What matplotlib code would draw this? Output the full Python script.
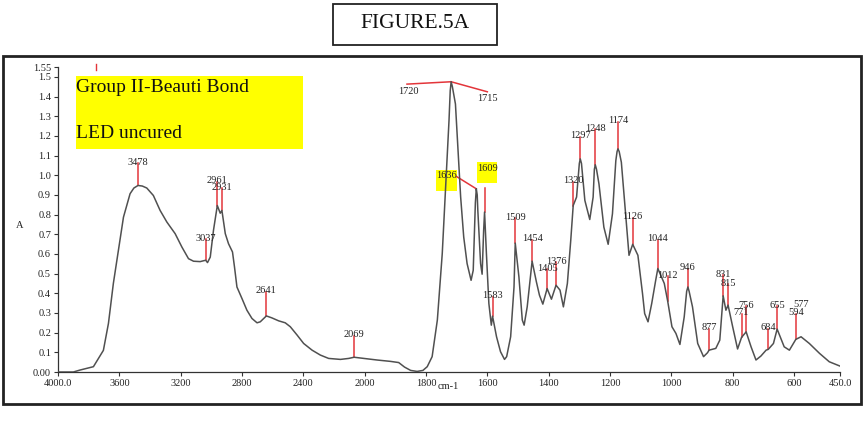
import numpy as np
import matplotlib
matplotlib.use("Agg")
import matplotlib.pyplot as plt
from matplotlib.patches import Rectangle

plt.rcParams['font.family'] = ['Liberation Serif', 'DejaVu Serif']

# ---------------- data ----------------
wavenumber = [4000, 3900, 3856, 3769, 3704, 3671, 3639, 3606, 3573, 3530, 3505, 3478, 3450, 3421,
              3378, 3334, 3290, 3236, 3192, 3149, 3116, 3073, 3037, 3025, 3007, 2986, 2961, 2942,
              2931, 2909, 2888, 2862, 2849, 2833, 2800, 2768, 2735, 2702, 2681, 2641, 2605,
              2561, 2518, 2485, 2441, 2398, 2343, 2289, 2235, 2158, 2104, 2069, 2006, 1960,
              1916, 1889, 1870, 1850, 1829, 1810, 1796, 1780, 1763, 1747, 1736, 1725, 1721, 1718,
              1714, 1704, 1695, 1687, 1677, 1666, 1653, 1646, 1639, 1636, 1633, 1631, 1622, 1617,
              1612, 1609, 1603, 1595, 1587, 1583, 1570, 1557, 1544, 1537, 1524, 1513, 1509, 1497,
              1486, 1480, 1470, 1454, 1440, 1430, 1419, 1405, 1391, 1376, 1363, 1352, 1339, 1328,
              1320, 1309, 1300, 1297, 1293, 1282, 1266, 1255, 1251, 1248, 1244, 1236, 1220, 1206,
              1192, 1181, 1177, 1174, 1170, 1163, 1151, 1138, 1126, 1109, 1094, 1087, 1076, 1064,
              1051, 1044, 1023, 1012, 998, 985, 972, 958, 950, 946, 942, 931, 914, 895, 882, 877,
              855, 842, 831, 822, 815, 800, 784, 771, 756, 740, 724, 708, 691, 684, 667, 655, 632,
              615, 594, 577, 550, 517, 485, 450]
absorbance = [0.0, 0.0, 0.01, 0.027, 0.11, 0.247, 0.45, 0.618, 0.787, 0.906, 0.935, 0.948, 0.945,
              0.935, 0.897, 0.821, 0.762, 0.703, 0.635, 0.576, 0.563, 0.561, 0.568, 0.556, 0.584,
              0.72, 0.846, 0.807, 0.821, 0.703, 0.652, 0.61, 0.534, 0.432, 0.373, 0.314, 0.272,
              0.25, 0.255, 0.285, 0.275, 0.26, 0.25, 0.23, 0.188, 0.145, 0.111, 0.086, 0.069,
              0.064, 0.069, 0.075, 0.069, 0.061, 0.054, 0.048, 0.025, 0.008, 0.003, 0.008, 0.027,
              0.078, 0.264, 0.602, 0.94, 1.277, 1.43, 1.475, 1.45, 1.362, 1.108, 0.889, 0.686,
              0.551, 0.466, 0.517, 0.86, 0.931, 0.9, 0.821, 0.551, 0.497, 0.72, 0.813, 0.602,
              0.348, 0.238, 0.284, 0.179, 0.103, 0.064, 0.078, 0.179, 0.432, 0.655, 0.483, 0.264,
              0.238, 0.331, 0.563, 0.458, 0.39, 0.345, 0.424, 0.37, 0.441, 0.416, 0.331, 0.45,
              0.669, 0.846, 0.889, 1.06, 1.083, 1.06, 0.872, 0.775, 0.889, 1.03, 1.053, 1.03,
              0.956, 0.736, 0.649, 0.804, 1.074, 1.12, 1.134, 1.12, 1.066, 0.838, 0.593, 0.649,
              0.593, 0.399, 0.297, 0.255, 0.348, 0.466, 0.526, 0.45, 0.361, 0.23, 0.196, 0.14,
              0.28, 0.41, 0.432, 0.41, 0.331, 0.145, 0.078, 0.098, 0.111, 0.12, 0.162, 0.387,
              0.314, 0.34, 0.23, 0.117, 0.176, 0.204, 0.128, 0.061, 0.081, 0.111, 0.115, 0.145,
              0.218, 0.128, 0.111, 0.166, 0.179, 0.145, 0.095, 0.052, 0.03]

peak_wn = [3478, 3037, 2961, 2931, 2641, 2069, 1583, 1509, 1454, 1405, 1376, 1320, 1297, 1248,
           1174, 1126, 1044, 1012, 946, 877, 831, 815, 771, 756, 684, 655, 594]
peak_label_y = [1.066, 0.679, 0.973, 0.94, 0.413, 0.19, 0.387, 0.787, 0.678, 0.526, 0.564, 0.973,
                1.2, 1.24, 1.277, 0.79, 0.678, 0.492, 0.529, 0.225, 0.497, 0.45, 0.3, 0.34, 0.225,
                0.34, 0.3]
extra_label = ("577", 577, 0.343)

xticks = [4000, 3600, 3200, 2800, 2400, 2000, 1800, 1600, 1400, 1200, 1000, 800, 600, 450]
xticklabels = ['4000.0', '3600', '3200', '2800', '2400', '2000', '1800', '1600', '1400', '1200',
               '1000', '800', '600', '450.0']
yticks = [0.0, 0.1, 0.2, 0.3, 0.4, 0.5, 0.6, 0.7, 0.8, 0.9, 1.0, 1.1, 1.2, 1.3, 1.4, 1.5, 1.55]
yticklabels = ['0.00', '0.1', '0.2', '0.3', '0.4', '0.5', '0.6', '0.7', '0.8', '0.9', '1.0', '1.1',
               '1.2', '1.3', '1.4', '1.5', '1.55']

title_text = "FIGURE.5A"
box_lines = ["Group II-Beauti Bond", "LED uncured"]

# ---------------- figure ----------------
W, H = 867, 448
fig = plt.figure(figsize=(W / 100, H / 100), dpi=100)


def fx(px):
    return px / W


def fy(py):
    return 1 - py / H


ax = fig.add_axes([fx(58), fy(372), (840 - 58) / W, (372 - 67) / H])


def fwd(x):
    x = np.asarray(x, dtype=float)
    return np.where(x >= 2000, x, 2 * x - 2000)


def inv(u):
    u = np.asarray(u, dtype=float)
    return np.where(u >= 2000, u, (u + 2000) / 2)


ax.set_xscale('function', functions=(fwd, inv))
ax.set_xlim(4000, 450)
ax.set_ylim(0, 1.55)

wn = np.array(wavenumber, dtype=float)
ab = np.array(absorbance, dtype=float)
ax.plot(wn, ab, color='#505050', lw=1.1, zorder=3, solid_joinstyle='round')

red = '#e3353a'
lab_fs = 7.5
order = np.argsort(wn)
for p, ly in zip(peak_wn, peak_label_y):
    yv = np.interp(p, wn[order], ab[order])
    ax.plot([p, p], [yv, ly - 0.005], color=red, lw=1.1, zorder=2)
    ax.text(p, ly, str(p), ha='center', va='center', fontsize=lab_fs, color='#222222', zorder=4)
ax.text(extra_label[1], extra_label[2], extra_label[0], ha='center', va='center',
        fontsize=lab_fs, color='#222222', zorder=4)

# 1720 / 1715 labels
top_wn = 1718
top_y = np.interp(top_wn, wn[order], ab[order])
ax.plot([1862, top_wn], [1.463, top_y], color=red, lw=1.1, zorder=2, clip_on=False)
ax.plot([top_wn, 1600], [top_y, 1.424], color=red, lw=1.1, zorder=2, clip_on=False)
ax.text(1858, 1.426, "1720", ha='center', va='center', fontsize=lab_fs, color='#222222')
ax.text(1600, 1.39, "1715", ha='center', va='center', fontsize=lab_fs, color='#222222')

# 1636 highlighted
ax.add_patch(Rectangle((1766, 0.922), 1700.5 - 1766, 1.029 - 0.922, facecolor='#ffff00',
                       edgecolor='none', zorder=1))
ax.text(1733, 0.998, "1636", ha='center', va='center', fontsize=lab_fs, color='#222222', zorder=4)
y1636 = np.interp(1636, wn[order], ab[order])
ax.plot([1700, 1636], [0.993, y1636], color=red, lw=1.1, zorder=2)

# 1609 highlighted
ax.add_patch(Rectangle((1633, 0.959), 1567.5 - 1633, 1.066 - 0.959, facecolor='#ffff00',
                       edgecolor='none', zorder=1))
ax.text(1600, 1.034, "1609", ha='center', va='center', fontsize=lab_fs, color='#222222', zorder=4)
y1609 = np.interp(1609, wn[order], ab[order])
ax.plot([1609, 1609], [y1609, 0.934], color=red, lw=1.1, zorder=2)

# small stray red tick near top
ax.plot([3752, 3752], [1.536, 1.566], color=red, lw=1.0, clip_on=False)

ax.set_xticks(xticks)
ax.set_xticklabels(xticklabels)
ax.set_yticks(yticks)
ax.set_yticklabels(yticklabels)
ax.minorticks_off()
ax.tick_params(axis='both', labelsize=7.5, length=3, width=0.8, color='#333333',
               labelcolor='#222222', pad=2)
for s in ['top', 'right']:
    ax.spines[s].set_visible(False)
for s in ['left', 'bottom']:
    ax.spines[s].set_color('#333333')
    ax.spines[s].set_linewidth(0.9)

# axis labels
fig.text(fx(20), fy(225), "A", ha='center', va='center', fontsize=7.5, color='#222222')
fig.text(fx(448), fy(386), "cm-1", ha='center', va='center', fontsize=7.5, color='#222222')

# yellow annotation box
fig.patches.append(Rectangle((fx(76), fy(149)), (303 - 76) / W, (149 - 76) / H,
                             transform=fig.transFigure, facecolor='#ffff00', edgecolor='none',
                             zorder=0.5))
fig.text(fx(76), fy(88), box_lines[0], ha='left', va='center', fontsize=14, color='#111111')
fig.text(fx(76), fy(134), box_lines[1], ha='left', va='center', fontsize=14, color='#111111')

# outer frame
fig.patches.append(Rectangle((fx(2.5), fy(404)), (861 - 2.5) / W, (404 - 56) / H,
                             transform=fig.transFigure, facecolor='none', edgecolor='#222222',
                             lw=2.0))
# title box
fig.patches.append(Rectangle((fx(333), fy(45)), (497 - 333) / W, (45 - 4) / H,
                             transform=fig.transFigure, facecolor='none', edgecolor='#222222',
                             lw=1.3))
fig.text(fx(415), fy(24), title_text, ha='center', va='center', fontsize=15.5, color='#111111')

fig.savefig("out.png", dpi=100)
